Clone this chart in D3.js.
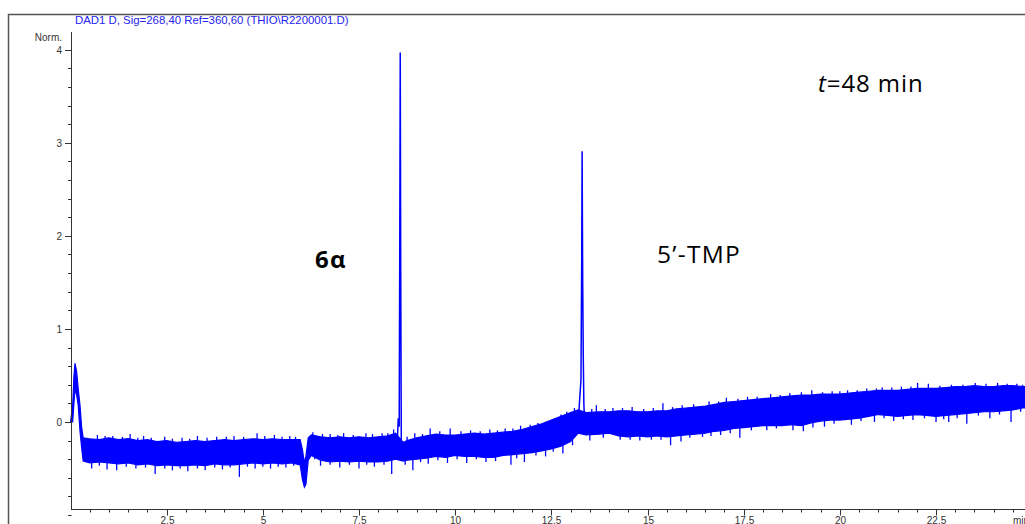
<!DOCTYPE html>
<html><head><meta charset="utf-8">
<script src="https://cdn.jsdelivr.net/npm/d3@7"></script>
<style>
html,body{margin:0;padding:0;background:#fff;overflow:hidden;}
svg{display:block;}
</style></head>
<body>
<svg id="chart" width="1025" height="524"></svg>
<script>
// ---------- data ----------
const title = "DAD1 D, Sig=268,40 Ref=360,60 (THIO\\R2200001.D)";
const yAxisLabel = "Norm.";
const xUnitLabel = "min";
const xTickLabels = [2.5, 5, 7.5, 10, 12.5, 15, 17.5, 20, 22.5];
const yTickLabels = [0, 1, 2, 3, 4];

// noise band of the baseline (time in min, upper / lower edge in Norm.)
const bandTime = [
  0, 0.057, 0.09, 0.117, 0.16, 0.2, 0.247, 0.29, 0.33,
  0.5, 0.75, 1.0, 1.25, 1.5, 1.75, 2.0, 2.25, 2.5, 2.75,
  3.0, 3.25, 3.5, 3.75, 4.0, 4.25, 4.5, 4.75, 5.0, 5.25,
  5.5, 5.75, 5.97, 6.03, 6.08, 6.12, 6.18, 6.26,
  6.5, 6.75, 7.0, 7.25, 7.5, 7.75, 8.0, 8.25,
  8.45, 8.65, 8.75, 9.0, 9.25, 9.5, 9.75, 10.0, 10.25, 10.5,
  10.75, 11.0, 11.25, 11.5, 11.75, 12.0, 12.25, 12.5, 12.75, 13.0,
  13.2, 13.4, 13.75, 14.0, 14.25, 14.5, 14.75, 15.0, 15.25,
  15.5, 15.75, 16.0, 16.25, 16.5, 16.75, 17.0, 17.25, 17.5, 17.75,
  18.0, 18.25, 18.5, 18.75, 19.0, 19.25, 19.5, 19.75, 20.0, 20.25,
  20.5, 20.75, 21.0, 21.25, 21.5, 21.75, 22.0, 22.25, 22.5, 22.75,
  23.0, 23.25, 23.5, 23.75, 24.0, 24.25, 24.5, 24.75, 24.8
];
const bandHigh = [
  0.00, 0.18, 0.50, 0.63, 0.54, 0.36, 0.18, -0.06, -0.17,
  -0.18, -0.19, -0.17, -0.19, -0.18, -0.20, -0.19, -0.21, -0.20, -0.22,
  -0.21, -0.20, -0.21, -0.20, -0.19, -0.20, -0.19, -0.18, -0.19, -0.18,
  -0.19, -0.19, -0.19, -0.30, -0.44, -0.37, -0.17, -0.14,
  -0.16, -0.17, -0.16, -0.17, -0.16, -0.17, -0.16, -0.15,
  -0.12, -0.22, -0.20, -0.17, -0.15, -0.13, -0.14, -0.14, -0.13, -0.12,
  -0.13, -0.12, -0.11, -0.10, -0.08, -0.05, -0.02, 0.02, 0.06, 0.10,
  0.13, 0.10, 0.11, 0.11, 0.12, 0.12, 0.11, 0.11, 0.12,
  0.12, 0.14, 0.15, 0.16, 0.17, 0.19, 0.21, 0.22, 0.23, 0.24,
  0.25, 0.26, 0.27, 0.28, 0.29, 0.29, 0.30, 0.30, 0.30, 0.31,
  0.32, 0.33, 0.34, 0.34, 0.34, 0.35, 0.36, 0.36, 0.36, 0.37,
  0.38, 0.38, 0.39, 0.38, 0.38, 0.39, 0.39, 0.38, 0.38
];
const bandLow = [
  0.00, 0.00, 0.21, 0.36, 0.29, 0.18, -0.10, -0.28, -0.42,
  -0.44, -0.43, -0.44, -0.45, -0.44, -0.46, -0.45, -0.47, -0.46, -0.47,
  -0.47, -0.46, -0.47, -0.45, -0.46, -0.46, -0.45, -0.44, -0.45, -0.44,
  -0.45, -0.44, -0.46, -0.62, -0.70, -0.67, -0.41, -0.36,
  -0.41, -0.43, -0.42, -0.43, -0.42, -0.43, -0.43, -0.42,
  -0.40, -0.42, -0.41, -0.40, -0.39, -0.37, -0.38, -0.36, -0.37, -0.37,
  -0.38, -0.38, -0.36, -0.35, -0.34, -0.33, -0.31, -0.29, -0.26, -0.21,
  -0.12, -0.14, -0.13, -0.12, -0.15, -0.16, -0.15, -0.16, -0.15,
  -0.16, -0.15, -0.14, -0.13, -0.12, -0.10, -0.09, -0.07, -0.06, -0.05,
  -0.04, -0.04, -0.04, -0.03, -0.04, -0.01, 0.01, 0.02, 0.02, 0.03,
  0.04, 0.06, 0.08, 0.07, 0.06, 0.07, 0.08, 0.07, 0.06, 0.07,
  0.08, 0.09, 0.10, 0.11, 0.11, 0.12, 0.13, 0.15, 0.15
];

// individual noise spikes above and below the band
const spikeUpTime = [0.7, 1.1, 1.55, 1.9, 2.45, 2.9, 3.3, 3.8, 4.25, 4.85, 5.3, 5.7, 6.3, 6.75, 7.1, 7.68, 8.1, 8.4,
  8.95, 9.35, 9.87, 10.4, 10.9, 11.3, 11.7, 12.15, 12.6, 12.9, 13.1, 13.67, 14.1, 14.6, 15.4, 15.9, 16.6, 17.05,
  17.6, 18.2, 18.7, 19.27, 19.8, 20.2, 20.7, 21.1, 21.6, 22.02, 22.3, 22.9, 23.52, 24.1, 24.6,
  0.9, 1.35, 1.75, 2.1, 2.65, 3.1, 3.55, 4.05, 4.5, 5.05, 5.5, 5.85, 6.55, 6.95, 7.35, 7.85, 8.25, 8.75,
  9.15, 9.6, 10.15, 10.65, 11.1, 11.5, 11.95, 12.4, 12.75, 13.55, 13.9, 14.35, 14.9, 15.15, 15.65, 16.2,
  16.85, 17.35, 17.85, 18.45, 19.0, 19.55, 20.0, 20.45, 20.95, 21.35, 21.85, 22.6, 23.2, 23.8, 24.35, 24.75];
const spikeUpSignal = [-0.14, -0.15, -0.13, -0.15, -0.16, -0.17, -0.15, -0.16, -0.15, -0.12, -0.14, -0.15, -0.11, -0.13, -0.12, -0.12, -0.12, -0.08,
  -0.12, -0.07, -0.07, -0.09, -0.08, -0.07, -0.04, -0.01, 0.04, 0.11, 0.15, 0.18, 0.15, 0.16, 0.20, 0.18, 0.22, 0.26,
  0.27, 0.30, 0.31, 0.34, 0.33, 0.34, 0.36, 0.37, 0.38, 0.42, 0.41, 0.40, 0.42, 0.42, 0.41,
  -0.15, -0.16, -0.17, -0.17, -0.18, -0.18, -0.17, -0.16, -0.16, -0.15, -0.16, -0.16, -0.13, -0.14, -0.14, -0.13, -0.12, -0.16,
  -0.13, -0.10, -0.10, -0.10, -0.09, -0.07, -0.03, 0.01, 0.08, 0.14, 0.14, 0.15, 0.14, 0.15, 0.16, 0.19,
  0.22, 0.25, 0.27, 0.29, 0.32, 0.32, 0.33, 0.34, 0.36, 0.37, 0.38, 0.39, 0.40, 0.41, 0.41, 0.40];
const spikeDownTime = [0.55, 0.95, 1.2, 1.7, 2.2, 2.65, 3.05, 3.5, 3.95, 4.39, 4.8, 5.2, 5.6, 6.5, 7.0, 7.5, 7.9, 8.35,
  8.9, 9.3, 9.8, 10.3, 10.8, 11.45, 11.8, 12.35, 12.8, 13.5, 14.29, 14.8, 15.6, 15.87, 16.43, 16.9, 17.4, 18.1,
  18.78, 19.05, 19.6, 20.3, 20.9, 21.4, 21.9, 22.5, 22.83, 23.3, 23.9, 24.45,
  0.75, 1.45, 1.95, 2.45, 2.85, 3.3, 3.75, 4.15, 4.6, 5.0, 5.4, 5.8, 6.35, 6.75, 7.25, 7.7, 8.15, 8.7,
  9.1, 9.55, 10.05, 10.55, 11.05, 11.6, 12.1, 12.55, 13.05, 13.85, 14.55, 15.1, 15.35, 16.1, 16.65, 17.15,
  17.7, 18.35, 19.3, 19.85, 20.55, 21.15, 21.65, 22.2, 22.7, 23.05, 23.6, 24.15, 24.7];
const spikeDownSignal = [-0.50, -0.51, -0.52, -0.50, -0.56, -0.52, -0.53, -0.52, -0.51, -0.59, -0.50, -0.50, -0.49, -0.47, -0.49, -0.50, -0.48, -0.56,
  -0.52, -0.45, -0.44, -0.44, -0.43, -0.46, -0.43, -0.37, -0.34, -0.20, -0.19, -0.20, -0.25, -0.21, -0.16, -0.14, -0.17, -0.09,
  -0.09, -0.10, -0.05, -0.03, 0.00, 0.01, 0.02, 0.00, 0.00, -0.02, 0.04, 0.00,
  -0.47, -0.48, -0.49, -0.50, -0.50, -0.50, -0.49, -0.49, -0.48, -0.48, -0.48, -0.47, -0.40, -0.46, -0.46, -0.46, -0.46, -0.46,
  -0.43, -0.41, -0.40, -0.40, -0.42, -0.39, -0.36, -0.32, -0.25, -0.17, -0.19, -0.19, -0.19, -0.17, -0.15, -0.12,
  -0.09, -0.07, -0.06, -0.02, 0.01, 0.04, 0.03, 0.04, 0.03, 0.04, 0.07, 0.08, 0.11];

// the two peaks
const peak6aTime = [8.49, 8.52, 8.545, 8.56, 8.572, 8.585, 8.6, 8.62];
const peak6aSignal = [-0.28, 0.04, -0.05, 2.0, 3.97, 1.6, -0.32, -0.28];
const peakTmpTime = [13.2, 13.24, 13.27, 13.29, 13.30, 13.315, 13.33, 13.345, 13.37];
const peakTmpSignal = [0.0, 0.27, 0.45, 1.8, 2.91, 1.5, 0.7, 0.2, -0.05];

const labelTexts = ["6α", "5’-TMP", "=48 min"];

// ---------- drawing ----------
const svg = d3.select("#chart");
const BLUE = "#0000ff";
const x = d3.scaleLinear().domain([0, 24.8]).range([70.5, 1024.5]);
const y = d3.scaleLinear().domain([-0.935, 4.19]).range([509, 32]);

// outer frame
svg.append("path").attr("d", "M8.5,524 V14.5 H1025")
  .attr("fill", "none").attr("stroke", "#555").attr("stroke-width", 1.5);

// title
svg.append("text").attr("x", 75).attr("y", 24)
  .attr("font-family", "Liberation Sans, Arial, sans-serif").attr("font-size", 11.4)
  .attr("fill", "#2424f0").text(title);

// noise band
const band = bandTime.map((t, i) => ({t, hi: bandHigh[i], lo: bandLow[i]}));
svg.append("path").datum(band)
  .attr("d", d3.area().x(d => x(d.t)).y0(d => y(d.lo)).y1(d => y(d.hi)))
  .attr("fill", BLUE).attr("stroke", BLUE).attr("stroke-width", 1.2);

// spikes
const mid = t => {
  const i = Math.max(1, Math.min(bandTime.length - 1, d3.bisectLeft(bandTime, t)));
  const a = band[i - 1], b = band[i];
  const f = (t - a.t) / (b.t - a.t);
  return ((a.hi + a.lo) / 2) * (1 - f) + ((b.hi + b.lo) / 2) * f;
};
const spikes = spikeUpTime.map((t, i) => ({t, v: spikeUpSignal[i]}))
  .concat(spikeDownTime.map((t, i) => ({t, v: spikeDownSignal[i]})));
svg.append("g").selectAll("line").data(spikes).join("line")
  .attr("x1", d => x(d.t)).attr("x2", d => x(d.t))
  .attr("y1", d => y(mid(d.t))).attr("y2", d => y(d.v))
  .attr("stroke", BLUE).attr("stroke-width", 1.3);

// peaks
const line = d3.line().x(d => x(d[0])).y(d => y(d[1]));
[[peak6aTime, peak6aSignal], [peakTmpTime, peakTmpSignal]].forEach(([ts, vs]) => {
  svg.append("path").datum(ts.map((t, i) => [t, vs[i]]))
    .attr("d", line).attr("fill", "none").attr("stroke", BLUE).attr("stroke-width", 1.5);
});

// axes
const AX = "#333";
const fontAx = "Liberation Sans, Arial, sans-serif";
svg.append("line").attr("x1", 71.5).attr("x2", 71.5).attr("y1", 32).attr("y2", 509.5).attr("stroke", AX);
svg.append("line").attr("x1", 71).attr("x2", 1025).attr("y1", 509.5).attr("y2", 509.5).attr("stroke", AX);

const yMinor = d3.range(-8, 21).map(k => k / 5).filter(v => !yTickLabels.includes(v));
svg.append("g").selectAll("line").data(yMinor).join("line")
  .attr("x1", 68).attr("x2", 71.5).attr("y1", d => Math.round(y(d)) + 0.5).attr("y2", d => Math.round(y(d)) + 0.5)
  .attr("stroke", AX);
const yG = svg.append("g").selectAll("g").data(yTickLabels).join("g")
  .attr("transform", d => `translate(0,${Math.round(y(d)) + 0.5})`);
yG.append("line").attr("x1", 65).attr("x2", 71.5).attr("stroke", AX);
yG.append("text").attr("x", 62).attr("y", 3.5).attr("text-anchor", "end")
  .attr("font-family", fontAx).attr("font-size", 10).attr("fill", "#333").text(d => d);
svg.append("text").attr("x", 62).attr("y", 40.5).attr("text-anchor", "end")
  .attr("font-family", fontAx).attr("font-size", 10).attr("fill", "#333").text(yAxisLabel);

const xMinor = d3.range(1, 50).map(k => k / 2).filter(v => !xTickLabels.includes(v));
svg.append("g").selectAll("line").data(xMinor).join("line")
  .attr("x1", d => Math.round(x(d)) + 0.5).attr("x2", d => Math.round(x(d)) + 0.5)
  .attr("y1", 509.5).attr("y2", 512.5).attr("stroke", AX);
const xG = svg.append("g").selectAll("g").data(xTickLabels).join("g")
  .attr("transform", d => `translate(${Math.round(x(d)) + 0.5},0)`);
xG.append("line").attr("y1", 509.5).attr("y2", 515.5).attr("stroke", AX);
xG.append("text").attr("y", 523.5).attr("text-anchor", "middle")
  .attr("font-family", fontAx).attr("font-size", 10).attr("fill", "#333").text(d => d);
svg.append("text").attr("x", 1013).attr("y", 523.5)
  .attr("font-family", fontAx).attr("font-size", 10).attr("fill", "#333").text(xUnitLabel);

// annotations
const fontAnn = "Open Sans, sans-serif";
svg.append("text").attr("x", 315).attr("y", 268).attr("font-family", fontAnn)
  .attr("font-size", 24).attr("font-weight", "bold").attr("letter-spacing", 1.2)
  .attr("fill", "#000").text(labelTexts[0]);
svg.append("text").attr("x", 657).attr("y", 263).attr("font-family", fontAnn)
  .attr("font-size", 24.5).attr("letter-spacing", 1.3).attr("fill", "#000").text(labelTexts[1]);
const tt = svg.append("text").attr("x", 818).attr("y", 92).attr("font-family", fontAnn)
  .attr("font-size", 24).attr("letter-spacing", 0.9).attr("fill", "#000");
tt.append("tspan").attr("font-style", "italic").text("t");
tt.append("tspan").text(labelTexts[2]);
</script>
</body></html>
